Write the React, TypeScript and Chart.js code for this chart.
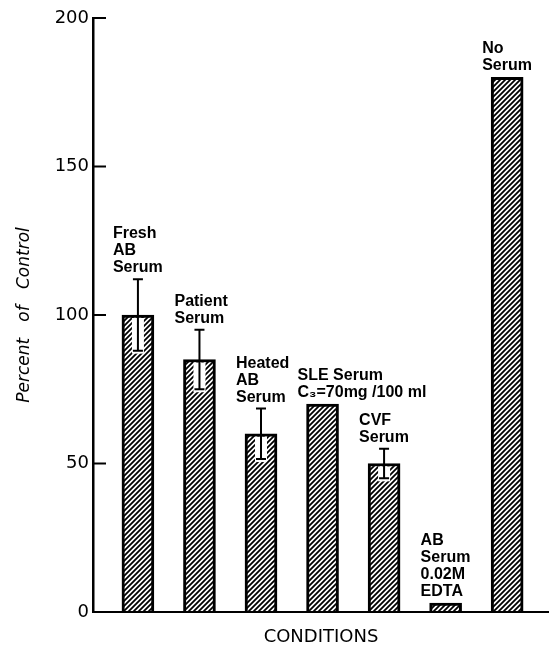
import { useEffect, useRef } from 'react';
import { Chart, registerables } from 'chart.js';

Chart.register(...registerables);

const categories = [
  'Fresh AB Serum',
  'Patient Serum',
  'Heated AB Serum',
  'SLE Serum C₃=70mg /100 ml',
  'CVF Serum',
  'AB Serum 0.02M EDTA',
  'No Serum',
];
const labelLines = [
  ['Fresh', 'AB', 'Serum'],
  ['Patient', 'Serum'],
  ['Heated', 'AB', 'Serum'],
  ['SLE Serum', 'C₃=70mg /100 ml'],
  ['CVF', 'Serum'],
  ['AB', 'Serum', '0.02M', 'EDTA'],
  ['No', 'Serum'],
];
const percentOfControl = [100, 85, 60, 70, 50, 3, 180];
const errorValues = [12, 10, 8.5, 0, 5, 0, 0];
const yTicks = [0, 50, 100, 150, 200];
const yTitle = 'Percent   of   Control';
const xTitle = 'CONDITIONS';

const FONT = '"DejaVu Sans", sans-serif';
const LABEL_FONT = 'bold 16px "Liberation Sans", Arial, sans-serif';

function makeHatch(): CanvasPattern | string {
  const s = 5;
  const c = document.createElement('canvas');
  c.width = s;
  c.height = s;
  const g = c.getContext('2d');
  if (!g) return '#888';
  g.fillStyle = '#fff';
  g.fillRect(0, 0, s, s);
  g.strokeStyle = '#000';
  g.lineWidth = 1.8;
  g.beginPath();
  g.moveTo(0, s);
  g.lineTo(s, 0);
  g.moveTo(-1, 1);
  g.lineTo(1, -1);
  g.moveTo(s - 1, s + 1);
  g.lineTo(s + 1, s - 1);
  g.stroke();
  const p = g.createPattern(c, 'repeat');
  return p || '#888';
}

const annotPlugin = {
  id: 'annot',
  afterDatasetsDraw(chart: any) {
    const ctx = chart.ctx as CanvasRenderingContext2D;
    const y = chart.scales.y;
    const area = chart.chartArea;
    const meta = chart.getDatasetMeta(0);
    ctx.save();
    ctx.strokeStyle = '#000';
    ctx.lineCap = 'butt';
    // x axis line
    ctx.lineWidth = 2;
    ctx.beginPath();
    ctx.moveTo(area.left, area.bottom);
    ctx.lineTo(area.right, area.bottom);
    ctx.stroke();
    // inward y ticks
    yTicks.forEach((v) => {
      const py = y.getPixelForValue(v);
      ctx.beginPath();
      ctx.moveTo(area.left, py);
      ctx.lineTo(area.left + 13, py);
      ctx.stroke();
    });
    // error bars
    meta.data.forEach((bar: any, i: number) => {
      const e = errorValues[i];
      if (!e) return;
      const v = percentOfControl[i];
      const top = y.getPixelForValue(v + e);
      const bottom = y.getPixelForValue(v - e);
      const x = bar.x;
      ctx.fillStyle = '#fff';
      ctx.fillRect(x - 6, bar.y + 3, 12, bottom - bar.y);
      ctx.lineWidth = 2;
      ctx.beginPath();
      ctx.moveTo(x, top);
      ctx.lineTo(x, bottom);
      ctx.moveTo(x - 5, top);
      ctx.lineTo(x + 5, top);
      ctx.moveTo(x - 5, bottom);
      ctx.lineTo(x + 5, bottom);
      ctx.stroke();
    });
    // bar labels
    ctx.fillStyle = '#000';
    ctx.font = LABEL_FONT;
    ctx.textAlign = 'left';
    ctx.textBaseline = 'alphabetic';
    meta.data.forEach((bar: any, i: number) => {
      const v = percentOfControl[i];
      const e = errorValues[i];
      const anchor = y.getPixelForValue(v + e);
      const lines = labelLines[i];
      const left = bar.x - bar.width / 2 - 9;
      lines.forEach((t, j) => {
        ctx.fillText(t, left, anchor - 7 - (lines.length - 1 - j) * 17);
      });
    });
    // x title
    ctx.font = `18px ${FONT}`;
    ctx.textAlign = 'center';
    ctx.fillText(xTitle, (area.left + area.right) / 2, 642);
    ctx.restore();
  },
};

export default function App() {
  const ref = useRef<HTMLCanvasElement | null>(null);
  useEffect(() => {
    if (!ref.current) return;
    const hatch = makeHatch();
    const chart = new Chart(ref.current, {
      type: 'bar',
      data: {
        labels: categories,
        datasets: [
          {
            label: 'Percent of Control',
            data: categories.map((_, i) => ({ x: i + 1, y: percentOfControl[i] })) as any,
            backgroundColor: hatch as any,
            borderColor: '#000',
            borderWidth: 3,
            borderSkipped: 'start',
            barThickness: 32,
          },
        ],
      },
      options: {
        responsive: false,
        animation: false,
        devicePixelRatio: 1,
        layout: { padding: { top: 18, bottom: 34, left: 0, right: 0 } },
        plugins: { legend: { display: false }, tooltip: { enabled: false } },
        scales: {
          x: {
            type: 'linear',
            min: 0.27,
            max: 7.68,
            offset: false,
            display: false,
          },
          y: {
            min: 0,
            max: 200,
            afterFit: (s: any) => {
              s.width = 93;
            },
            grid: { display: false, drawTicks: false },
            border: { display: true, color: '#000', width: 2.5 },
            ticks: {
              stepSize: 50,
              padding: 4,
              color: '#000',
              font: { family: FONT, size: 18 },
            },
            title: {
              display: true,
              text: yTitle,
              color: '#000',
              font: { family: FONT, size: 17, style: 'italic' },
              padding: { top: 14, bottom: 0 },
            },
          },
        },
      },
      plugins: [annotPlugin],
    });
    return () => chart.destroy();
  }, []);
  return (
    <div style={{ position: 'absolute', left: 0, top: 0, width: 549, height: 646, background: '#fff' }}>
      <canvas ref={ref} width={549} height={646} style={{ display: 'block' }} />
    </div>
  );
}
